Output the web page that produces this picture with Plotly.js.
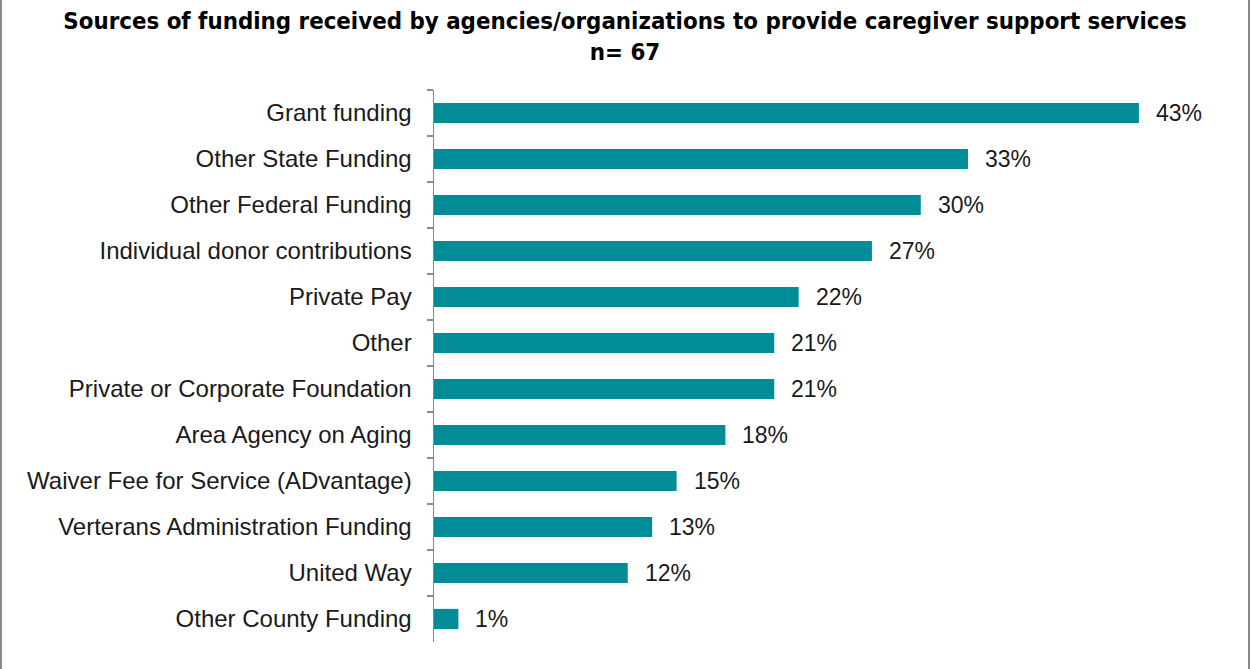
<!DOCTYPE html>
<html>
<head>
<meta charset="utf-8">
<script src="https://cdn.plot.ly/plotly-3.0.1.min.js"></script>
<style>
  html, body { margin: 0; padding: 0; background: #fff; }
  #wrap { position: relative; width: 1250px; height: 669px; }
  #chart { width: 1250px; height: 669px; }
  #frame { position: absolute; left: 0; top: 0; width: 1250px; height: 669px; box-sizing: border-box;
           border-left: 2px solid #8a8a8a; border-right: 2px solid #8a8a8a; pointer-events: none; }
</style>
</head>
<body>
<div id="wrap"><div id="chart"></div><div id="frame"></div></div>
<script>
const categories = [
  "Grant funding",
  "Other State Funding",
  "Other Federal Funding",
  "Individual donor contributions",
  "Private Pay",
  "Other",
  "Private or Corporate Foundation",
  "Area Agency on Aging",
  "Waiver Fee for Service (ADvantage)",
  "Verterans Administration Funding",
  "United Way",
  "Other County Funding"
];
const percentValues = [43.3, 32.8, 29.9, 26.9, 22.4, 20.9, 20.9, 17.9, 14.9, 13.4, 11.9, 1.5];
const valueLabels = ["43%", "33%", "30%", "27%", "22%", "21%", "21%", "18%", "15%", "13%", "12%", "1%"];

const tickFont = { family: "'Liberation Sans', Arial, sans-serif", size: 24, color: "#1a1a1a" };
const labelFont = { family: "'Liberation Sans', Arial, sans-serif", size: 23, color: "#1a1a1a" };

const trace = {
  type: "bar",
  orientation: "h",
  y: categories,
  x: percentValues,
  marker: { color: "#028C98" },
  width: 0.44,
  hoverinfo: "skip"
};

const annotations = categories.map((c, i) => ({
  x: percentValues[i],
  y: c,
  xref: "x",
  yref: "y",
  text: valueLabels[i],
  showarrow: false,
  xanchor: "left",
  yanchor: "middle",
  xshift: 15,
  font: labelFont
}));

const layout = {
  width: 1250,
  height: 669,
  margin: { l: 434, r: 2, t: 90, b: 27 },
  paper_bgcolor: "#ffffff",
  plot_bgcolor: "#ffffff",
  showlegend: false,
  title: {
    text: "Sources of funding received by agencies/organizations to provide caregiver support services<br>n= 67",
    font: { family: "'DejaVu Sans Condensed', 'Liberation Sans', sans-serif", size: 23.8, color: "#000", weight: "bold" },
    x: 0.5,
    xanchor: "center",
    y: 0.956,
    yanchor: "top",
    yref: "container"
  },
  xaxis: {
    range: [0, 50],
    showgrid: false,
    zeroline: false,
    showline: false,
    showticklabels: false,
    ticks: ""
  },
  yaxis: {
    type: "category",
    autorange: "reversed",
    showgrid: false,
    zeroline: false,
    showline: true,
    linecolor: "#8a8a8a",
    linewidth: 1.5,
    ticks: "outside",
    tickson: "boundaries",
    ticklen: 6,
    tickcolor: "#8a8a8a",
    tickwidth: 1.5,
    ticklabelstandoff: 16,
    tickfont: tickFont
  },
  annotations: annotations
};

Plotly.newPlot("chart", [trace], layout, { displayModeBar: false, staticPlot: true });
</script>
</body>
</html>
